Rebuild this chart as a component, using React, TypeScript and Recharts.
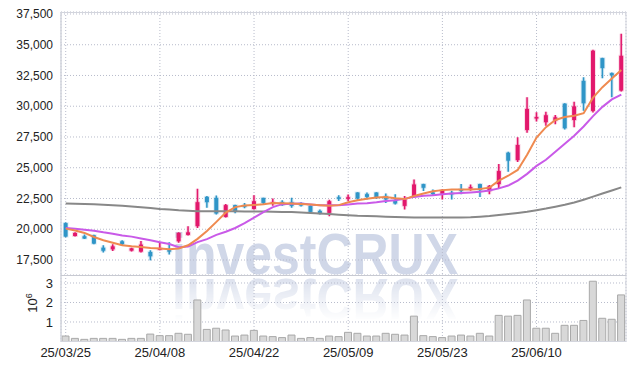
import React from "react";
import { ComposedChart, BarChart, Bar, Line, XAxis, YAxis, CartesianGrid } from "recharts";

// trading days, 25/03/25 .. 25/06/23
const dates = [
  "25/03/25", "25/03/26", "25/03/27", "25/03/28", "25/03/31", "25/04/01", "25/04/02", "25/04/03", "25/04/04", "25/04/07",
  "25/04/08", "25/04/09", "25/04/10", "25/04/11", "25/04/14", "25/04/15", "25/04/16", "25/04/17", "25/04/18", "25/04/21",
  "25/04/22", "25/04/23", "25/04/24", "25/04/25", "25/04/28", "25/04/29", "25/04/30", "25/05/02", "25/05/07", "25/05/08",
  "25/05/09", "25/05/12", "25/05/13", "25/05/14", "25/05/15", "25/05/16", "25/05/19", "25/05/20", "25/05/21", "25/05/22",
  "25/05/23", "25/05/26", "25/05/27", "25/05/28", "25/05/29", "25/05/30", "25/06/02", "25/06/04", "25/06/05", "25/06/09",
  "25/06/10", "25/06/11", "25/06/12", "25/06/13", "25/06/16", "25/06/17", "25/06/18", "25/06/19", "25/06/20", "25/06/23",
];

const opens = [
  20500, 19450, 19430, 19510, 18500, 18370, 19020, 18260, 18180, 18150,
  18350, 18300, 19020, 19540, 20250, 22630, 22550, 21000, 21960, 21950,
  21650, 22550, 22150, 22220, 22200, 22100, 21900, 21490, 21330, 22600,
  22550, 22990, 22850, 22990, 22690, 22360, 21900, 22690, 23670, 22990,
  22880, 22960, 23260, 23380, 23670, 23100, 23670, 26220, 25620, 28070,
  29080, 28700, 28830, 30210, 28880, 32060, 29620, 33910, 32690, 31270,
];
const highs = [
  20550, 19750, 19570, 19550, 18700, 18780, 19100, 18500, 19050, 18300,
  18950, 18950, 19750, 20250, 23300, 22700, 22750, 22050, 22000, 22140,
  22770, 22550, 22500, 22350, 22550, 22200, 21950, 21600, 22400, 22770,
  22830, 23000, 22990, 23000, 22910, 22850, 22710, 24050, 23700, 23240,
  23250, 23130, 23670, 23640, 23700, 23590, 25300, 26300, 27470, 30730,
  29510, 29560, 29290, 30250, 30370, 32360, 34600, 33950, 32750, 35890,
];
const lows = [
  19350, 19400, 19200, 18780, 18100, 18230, 18650, 18200, 18100, 17470,
  18300, 17950, 18900, 19500, 20100, 21750, 21200, 20950, 21300, 21700,
  21600, 22050, 21900, 21900, 21740, 21850, 21350, 21200, 21060, 22300,
  22300, 22400, 22420, 22450, 22140, 22010, 21610, 22650, 23100, 22800,
  22420, 22420, 22850, 23120, 22630, 22850, 23340, 24670, 25460, 27850,
  28750, 28420, 28530, 28100, 28290, 29640, 29480, 32280, 30730, 31190,
];
const closes = [
  19400, 19700, 19240, 18830, 18250, 18610, 18780, 18450, 18750, 17800,
  18450, 18180, 19700, 19750, 22200, 22200, 21280, 21960, 21470, 21820,
  22280, 22140, 22200, 21960, 21900, 21930, 21410, 21280, 22280, 22500,
  22600, 22500, 22630, 22550, 22420, 22090, 22420, 23640, 23370, 22850,
  23180, 22880, 23120, 23420, 23180, 23500, 24730, 25570, 26850, 29780,
  29120, 29270, 29100, 28210, 29990, 30240, 34510, 33100, 32530, 34100,
];

// moving averages
const ma5 = [
  20050, 19900, 19700, 19370, 19100, 18900, 18700, 18620, 18560, 18480,
  18430, 18380, 18430, 18700, 19220, 19850, 20600, 21350, 21800, 21930,
  21980, 22040, 22130, 22120, 22090, 22060, 22010, 21950, 21900, 21960,
  22200, 22350, 22470, 22580, 22630, 22520, 22450, 22700, 22900, 23080,
  23180, 23240, 23240, 23240, 23280, 23380, 23950, 24350, 24820, 26050,
  27450, 28300, 28880, 29130, 29220, 29430, 30700, 31550, 32250, 32950,
];
const ma20 = [
  20100, 20030, 19950, 19880, 19750, 19640, 19500, 19400, 19250, 19100,
  18950, 18800, 18540, 18600, 18950, 19200, 19540, 19800, 20100, 20500,
  20950, 21400, 21800, 22040, 22080, 22090, 22020, 21960, 21950, 21960,
  22020, 22090, 22120, 22200, 22300, 22360, 22480, 22630, 22720, 22770,
  22840, 22910, 22950, 22990, 23040, 23150, 23320, 23550, 23950, 24500,
  25150, 25650, 26300, 26950, 27600, 28350, 29200, 29950, 30550, 30950,
];
const ma120 = [
  22100, 22080, 22060, 22030, 22000, 21960, 21900, 21840, 21780, 21720,
  21650, 21600, 21540, 21500, 21470, 21460, 21460, 21460, 21460, 21450,
  21450, 21440, 21420, 21410, 21400, 21370, 21330, 21280, 21230, 21180,
  21140, 21100, 21080, 21050, 21020, 21000, 20980, 20960, 20950, 20950,
  20950, 20950, 20960, 20980, 21020, 21070, 21150, 21230, 21320, 21420,
  21550, 21680, 21830, 21990, 22180, 22400, 22650, 22900, 23150, 23400,
];

// volume in units of 10^6
const volumes = [
  0.28, 0.16, 0.11, 0.16, 0.16, 0.16, 0.11, 0.16, 0.16, 0.38,
  0.30, 0.30, 0.42, 0.37, 2.13, 0.62, 0.68, 0.59, 0.28, 0.33,
  0.57, 0.28, 0.25, 0.20, 0.33, 0.16, 0.20, 0.16, 0.28, 0.25,
  0.47, 0.42, 0.28, 0.28, 0.42, 0.37, 0.33, 1.30, 0.30, 0.25,
  0.20, 0.28, 0.33, 0.28, 0.42, 0.28, 1.34, 1.30, 1.34, 2.13,
  0.68, 0.68, 0.42, 0.83, 0.83, 1.08, 3.09, 1.19, 1.14, 2.39,
];

const priceTicks = [17500, 20000, 22500, 25000, 27500, 30000, 32500, 35000, 37500];
const volumeTicks = [1, 2, 3];

const UP = "#e2186c";
const DOWN = "#2f95c7";
const GRID = "#b8bccb";
const FONT = "'Liberation Sans', Arial, sans-serif";

const rows = dates.map((date, i) => ({
  date,
  open: opens[i],
  high: highs[i],
  low: lows[i],
  close: closes[i],
  range: [lows[i], highs[i]],
  ma5: ma5[i],
  ma20: ma20[i],
  ma120: ma120[i],
  volume: volumes[i],
}));

function Candle(props: any) {
  const { x, y, width, height, payload } = props;
  if (!payload) return null;
  const { open, close, high, low } = payload;
  const color = close >= open ? UP : DOWN;
  const ratio = high === low ? 0 : height / (high - low);
  const yOf = (v: number) => y + (high - v) * ratio;
  const cx = x + width / 2;
  const top = yOf(Math.max(open, close));
  const bodyH = Math.max(yOf(Math.min(open, close)) - top, 1.5);
  return (
    <g>
      <line x1={cx} x2={cx} y1={y} y2={y + height} stroke={color} strokeOpacity={0.18} strokeWidth={3.5} />
      <rect x={x - 1} y={top - 1} width={width + 2} height={bodyH + 2} fill={color} fillOpacity={0.15} />
      <line x1={cx} x2={cx} y1={y} y2={y + height} stroke={color} strokeWidth={1.5} />
      <rect x={x} y={top} width={width} height={bodyH} fill={color} />
    </g>
  );
}

// watermark: text plus a faded mirror image under the baseline
function Watermark() {
  return (
    <svg width={634} height={369} style={{ position: "absolute", left: 0, top: 0 }}>
      <defs>
        <linearGradient id="fade" x1="0" y1="0" x2="0" y2="1">
          <stop offset="0" stopColor="#fff" stopOpacity={0.75} />
          <stop offset="1" stopColor="#fff" stopOpacity={0} />
        </linearGradient>
        <mask id="reflMask">
          <rect x={0} y={277} width={634} height={44} fill="url(#fade)" />
        </mask>
      </defs>
      <text x={172} y={274} fontFamily={FONT} fontWeight="bold" fontSize={58} fill="#d0d7e8" textLength={286} lengthAdjust="spacingAndGlyphs">
        investCRUX
      </text>
      <g mask="url(#reflMask)">
        <g transform="translate(0,553) scale(1,-1)">
          <text x={172} y={274} fontFamily={FONT} fontWeight="bold" fontSize={58} fill="#d0d7e8" textLength={286} lengthAdjust="spacingAndGlyphs">
            investCRUX
          </text>
        </g>
      </g>
    </svg>
  );
}

export default function App() {
  return (
    <div style={{ position: "absolute", left: 0, top: 0, width: 634, height: 369, background: "#fff", fontFamily: FONT }}>
      <Watermark />
      {/* price pane */}
      <div style={{ position: "absolute", left: 0, top: 0 }}>
        <ComposedChart width={634} height={276} data={rows} margin={{ top: 12, right: 8, bottom: 1, left: 0 }} barCategoryGap="28%">
          <CartesianGrid stroke={GRID} strokeDasharray="1 2" />
          <XAxis dataKey="date" hide interval={9} />
          <YAxis
            domain={[16280, 37660]}
            ticks={priceTicks}
            interval={0}
            allowDataOverflow
            width={61}
            tickLine={false}
            axisLine={{ stroke: "#cfd2da" }}
            tick={{ fontSize: 12, fill: "#222", fontFamily: FONT }}
            tickFormatter={(v: number) => v.toLocaleString("en-US")}
          />
          <Line dataKey="ma120" type="linear" stroke="#888888" strokeWidth={2} dot={false} isAnimationActive={false} />
          <Bar dataKey="range" shape={<Candle />} isAnimationActive={false} />
          <Line dataKey="ma20" type="linear" stroke="#c95ae8" strokeWidth={2} dot={false} isAnimationActive={false} />
          <Line dataKey="ma5" type="linear" stroke="#ef8a50" strokeWidth={2} dot={false} isAnimationActive={false} />
        </ComposedChart>
      </div>
      {/* volume pane */}
      <div style={{ position: "absolute", left: 0, top: 275 }}>
        <BarChart width={634} height={94} data={rows} margin={{ top: 0, right: 8, bottom: 0, left: 0 }} barCategoryGap={1}>
          <CartesianGrid stroke={GRID} strokeDasharray="1 2" />
          <XAxis
            dataKey="date"
            interval={9}
            height={27.5}
            tickSize={4}
            tickLine={false}
            axisLine={{ stroke: "#cfd2da" }}
            tick={{ fontSize: 13, fill: "#222", fontFamily: FONT }}
          />
          <YAxis
            domain={[0, 3.41]}
            ticks={volumeTicks}
            interval={0}
            allowDataOverflow
            width={61}
            tickLine={false}
            axisLine={{ stroke: "#cfd2da" }}
            tick={{ fontSize: 13, fill: "#222", fontFamily: FONT }}
          />
          <Bar dataKey="volume" fill="#d8d8d8" stroke="#a9a9a9" strokeWidth={1} isAnimationActive={false} />
        </BarChart>
      </div>
      {/* frame, pane divider and volume unit */}
      <svg width={634} height={369} style={{ position: "absolute", left: 0, top: 0, pointerEvents: "none" }}>
        <rect x={61} y={12.5} width={565} height={329} fill="none" stroke="#d3d5dd" />
        <line x1={61} x2={626} y1={275.5} y2={275.5} stroke="#c8cad2" />
        <text transform="translate(37,303) rotate(-90)" textAnchor="middle" fontFamily={FONT} fontSize={13} fill="#222">
          10<tspan dy={-5} fontSize={9}>6</tspan>
        </text>
      </svg>
    </div>
  );
}
